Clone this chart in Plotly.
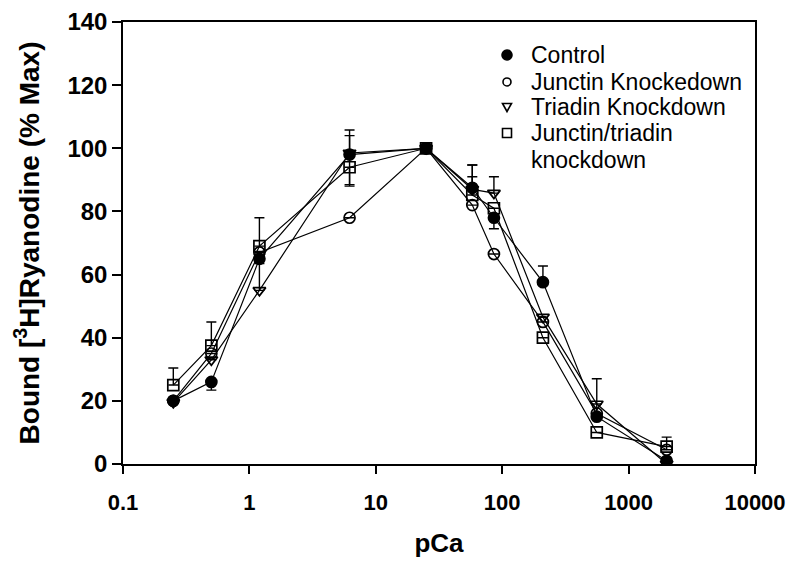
import plotly.graph_objects as go

# ---- data ----
pca = [0.25, 0.5, 1.2, 6.2, 25, 58, 86, 210, 560, 2000]

control = [20, 26, 65, 98, 100, 87.5, 78, 57.6, 15, 1]
control_err_up = [0, 0, 0, 7.8, 0, 7.2, 0, 5.1, 0, 0]
control_err_dn = [0, 2.6, 0, 0, 0, 0, 3.5, 0, 0, 0]

junctin = [20, 35, 67, 78, 100, 82, 66.5, 45, 16, 4.5]
junctin_err_up = [0, 0, 0, 0, 0, 0, 0, 0, 11, 4]
junctin_err_dn = [0, 0, 0, 0, 0, 0, 0, 0, 0, 0]

triadin = [19.5, 33, 55, 98.5, 100, 87, 85.8, 46.5, 19, 0]
triadin_err_up = [0, 0, 8.5, 5.5, 0, 4, 5.2, 0, 0, 0]
triadin_err_dn = [0, 0, 0, 10, 0, 0, 0, 0, 0, 0]

jt = [25, 37.5, 69, 94, 100, 85.2, 81, 40, 10, 5.5]
jt_err_up = [5.4, 7.5, 9, 0, 0, 9.5, 0, 0, 0, 0]
jt_err_dn = [0, 0, 0, 6, 0, 0, 0, 0, 0, 0]

series_names = ["Control", "Junctin Knockedown", "Triadin Knockdown",
                "Junctin/triadin knockdown"]
legend_lines = [["Control"], ["Junctin Knockedown"], ["Triadin Knockdown"],
                ["Junctin/triadin", "knockdown"]]

x_tickvals = [0.1, 1, 10, 100, 1000, 10000]
x_ticktext = ["0.1", "1", "10", "100", "1000", "10000"]
y_tickvals = [0, 20, 40, 60, 80, 100, 120, 140]

# ---- styles ----
symbols = ["circle", "circle-open", "triangle-down-open", "square-open"]
values = [control, junctin, triadin, jt]
err_up = [control_err_up, junctin_err_up, triadin_err_up, jt_err_up]
err_dn = [control_err_dn, junctin_err_dn, triadin_err_dn, jt_err_dn]

FONT = "Arial, Liberation Sans, sans-serif"

fig = go.Figure()
for name, vals, up, dn, sym in zip(series_names, values, err_up, err_dn, symbols):
    fig.add_trace(go.Scatter(
        x=pca, y=vals, mode="lines+markers", name=name, showlegend=False,
        line=dict(color="black", width=1.2),
        marker=dict(symbol=sym, size=11, color="black",
                    line=dict(color="black", width=1.7)),
        error_y=dict(type="data", array=up, arrayminus=dn, symmetric=False,
                     color="black", thickness=1.4, width=5),
    ))

# ---- manual legend (text annotations + small marker shapes) ----
PLOT_H = 442.0
leg_y = [0.9253, 0.8643, 0.8077, 0.7489]
line_step = 27 / PLOT_H
leg_text_x = 0.6425
leg_mark_x = 0.6076
for i, (lines, yy) in enumerate(zip(legend_lines, leg_y)):
    for k, txt in enumerate(lines):
        fig.add_annotation(xref="paper", yref="paper", x=leg_text_x,
                           y=yy - k * line_step, text=txt, showarrow=False,
                           xanchor="left", yanchor="middle", align="left",
                           font=dict(size=23, family=FONT, color="black"))
    common = dict(xref="paper", yref="paper", xsizemode="pixel", ysizemode="pixel",
                  xanchor=leg_mark_x, yanchor=yy, line=dict(color="black", width=1.6))
    if i == 0:
        fig.add_shape(type="circle", x0=-5, x1=5, y0=-5, y1=5,
                      fillcolor="black", **common)
    elif i == 1:
        fig.add_shape(type="circle", x0=-4, x1=4, y0=-4, y1=4,
                      fillcolor="white", **common)
    elif i == 2:
        fig.add_shape(type="path", path="M -4.5 3.5 L 4.5 3.5 L 0 -4.5 Z",
                      fillcolor="white", **common)
    else:
        fig.add_shape(type="rect", x0=-4.5, x1=4.5, y0=-4.5, y1=4.5,
                      fillcolor="white", **common)

# margins compensate for the page's default 8px body margin
fig.update_layout(
    width=795, height=564,
    margin=dict(l=115, r=48, t=14, b=108),
    paper_bgcolor="white", plot_bgcolor="white",
    font=dict(family=FONT, color="black"),
    showlegend=False,
)
fig.update_xaxes(
    type="log", range=[-1, 4], tickvals=x_tickvals,
    ticktext=["<b>%s</b>" % t for t in x_ticktext],
    showgrid=False, zeroline=False, showline=True, linecolor="black",
    linewidth=1.5, mirror=True, ticks="outside", ticklen=8, tickcolor="black",
    tickwidth=1.5, tickfont=dict(size=22), automargin=False,
    ticklabelstandoff=10,
    title=dict(text="<b>pCa</b>", font=dict(size=26), standoff=20),
)
fig.update_yaxes(
    range=[0, 140], tickvals=y_tickvals,
    ticktext=["<b>%d</b>" % v for v in y_tickvals],
    showgrid=False, zeroline=False, showline=True, linecolor="black",
    linewidth=1.5, mirror=True, ticks="outside", ticklen=9, tickcolor="black",
    tickwidth=1.5, tickfont=dict(size=24), automargin=False,
    title=dict(text="<b>Bound [<sup>3</sup>H]Ryanodine (% Max)</b>",
               font=dict(size=28), standoff=20),
)

fig.write_html("out.html")
